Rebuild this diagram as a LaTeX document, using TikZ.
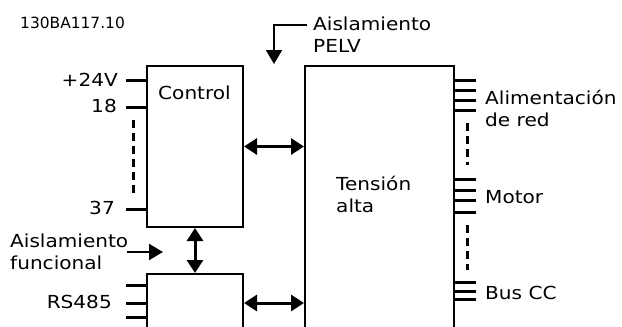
\documentclass[tikz,border=0pt]{standalone}
\usepackage{fontspec}
\setmainfont[FakeStretch=1.12]{DejaVu Sans}
\newfontfamily\codefont{DejaVu Sans}
\usetikzlibrary{arrows.meta}

\begin{document}
\begin{tikzpicture}[x=10bp, y=-10bp,
    unit/.style={draw, line width=2bp, inner sep=0},
    lbl/.style={inner sep=0, align=left, font=\fontsize{18}{22}\selectfont},
    pin/.style={line width=3bp},
    gap/.style={line width=3bp, dash pattern=on 8bp off 5bp},
    link/.style={{Triangle[length=13bp,width=16bp]}-{Triangle[length=13bp,width=16bp]}, line width=3bp},
    arr/.style={-{Triangle[length=14bp,width=16bp]}, line width=2bp}
]
    \useasboundingbox (0,0) rectangle (62.2,32.7);
    \clip (0,0) rectangle (62.2,32.7);

    \node[unit, minimum width=96bp, minimum height=161bp] (ctrl) at (19.5,14.65) {};
    \node[unit, minimum width=149bp, minimum height=281bp] (hv) at (37.95,20.65) {};
    \node[unit, minimum width=96bp, minimum height=58bp] (com) at (19.5,30.3) {};

    \node[inner sep=0, anchor=base west, font=\codefont\fontsize{15.5}{18}\selectfont] (code) at (2.0,2.8) {130BA117.10};
    \node[lbl, anchor=base west] (ctrltxt) at (15.8,9.9) {Control};
    \node[lbl, anchor=base west] (hvtxt) at (33.6,21.2) {Tensión\\alta};

    \node[lbl, anchor=base east] (p24) at (11.8,8.6) {+24V};
    \node[lbl, anchor=base east] (p18) at (11.7,11.2) {18};
    \node[lbl, anchor=base east] (p37) at (11.5,21.4) {37};
    \node[lbl, anchor=base east] (rs) at (11.2,30.8) {RS485};
    \node[lbl, anchor=base west] (func) at (1.0,26.9) {Aislamiento\\funcional};
    \node[lbl, anchor=base west] (pelv) at (31.3,5.2) {Aislamiento\\PELV};
    \node[lbl, anchor=base west] (mains) at (48.5,12.6) {Alimentación\\de red};
    \node[lbl, anchor=base west] (motor) at (48.5,20.3) {Motor};
    \node[lbl, anchor=base west] (bus) at (48.5,29.9) {Bus CC};

    \foreach \y in {8.0,10.7,20.9}
        \draw[pin] (ctrl.west |- 0,\y) -- ++(-2,0);
    \foreach \y in {28.5,30.3,31.7}
        \draw[pin] (com.west |- 0,\y) -- ++(-2,0);
    \foreach \y in {8.0,9.0,10.0,11.0,17.9,19.0,20.0,21.2,28.2,29.1,29.9}
        \draw[pin] (hv.east |- 0,\y) -- ++(2.1,0);

    \draw[gap] (13.3,12.0) -- (13.3,19.3);
    \draw[gap] (46.7,12.3) -- (46.7,16.5);
    \draw[gap] (46.7,22.5) -- (46.7,27.0);

    \draw[link] (ctrl.east) -- (ctrl.east -| hv.west);
    \draw[link] (com.east) -- (com.east -| hv.west);
    \draw[link] (ctrl.south) -- (com.north);

    \coordinate (pelvend) at (30.7,2.5);
    \coordinate (pelvtip) at (27.4,6.4);
    \draw[arr] (pelvend) -| (pelvtip);
    \coordinate (funcend) at (12.7,25.2);
    \coordinate (functip) at (16.3,25.2);
    \draw[arr] (funcend) -- (functip);
\end{tikzpicture}
\end{document}
